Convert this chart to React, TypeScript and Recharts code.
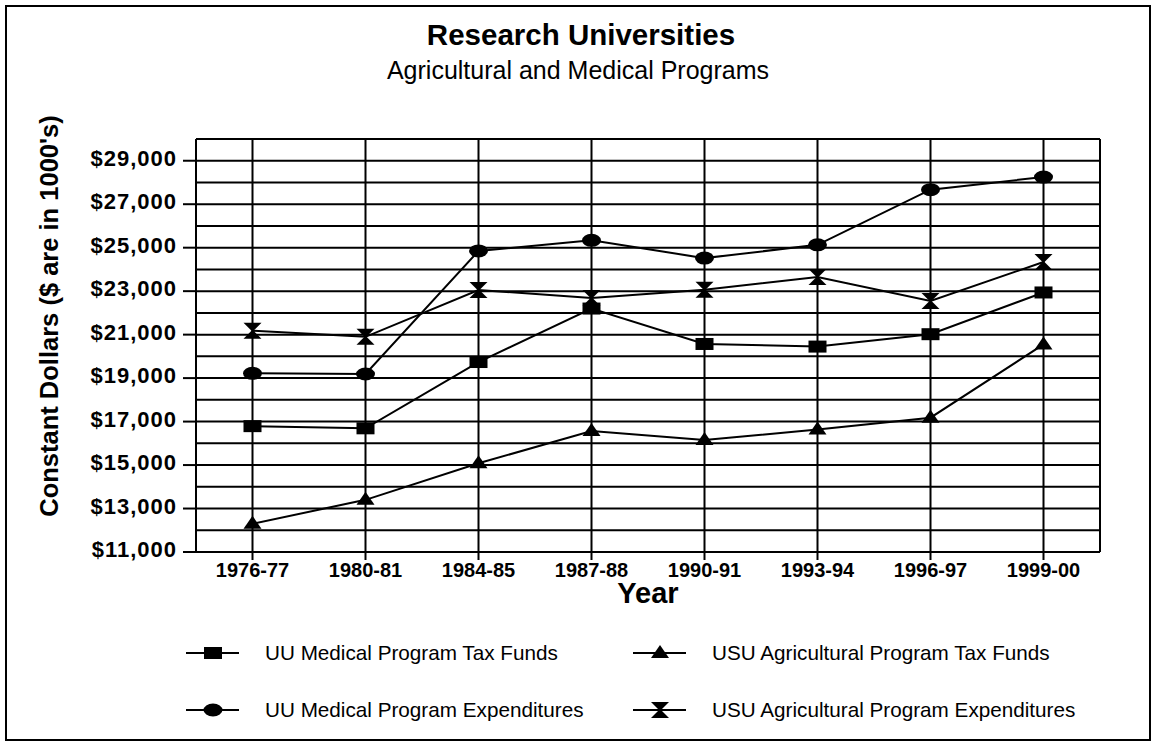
import React from 'react';
import { LineChart, Line, XAxis, YAxis, CartesianGrid, Legend, Label } from 'recharts';

const years = ['1976-77', '1980-81', '1984-85', '1987-88', '1990-91', '1993-94', '1996-97', '1999-00'];
const uuMedicalTaxFunds = [16790, 16690, 19740, 22200, 20570, 20450, 21020, 22940];
const usuAgTaxFunds = [12300, 13400, 15080, 16570, 16150, 16640, 17180, 20550];
const uuMedicalExpenditures = [19220, 19190, 24850, 25340, 24520, 25130, 27670, 28250];
const usuAgExpenditures = [21180, 20900, 23050, 22690, 23060, 23650, 22550, 24340];

const gridTicks = [11000, 12000, 13000, 14000, 15000, 16000, 17000, 18000, 19000, 20000, 21000, 22000, 23000, 24000, 25000, 26000, 27000, 28000, 29000, 30000];
const labeledTicks = [11000, 13000, 15000, 17000, 19000, 21000, 23000, 25000, 27000, 29000];

const title = 'Research Universities';
const subtitle = 'Agricultural and Medical Programs';
const yTitle = "Constant Dollars ($ are in 1000's)";
const xTitle = 'Year';

const seriesNames = [
  'UU Medical Program Tax Funds',
  'USU Agricultural Program Tax Funds',
  'UU Medical Program Expenditures',
  'USU Agricultural Program Expenditures',
];
const seriesKeys = ['uuTax', 'usuTax', 'uuExp', 'usuExp'];
const seriesShapes = ['square', 'triangle', 'circle', 'hourglass'];

const data = years.map((year, i) => ({
  year,
  uuTax: uuMedicalTaxFunds[i],
  usuTax: usuAgTaxFunds[i],
  uuExp: uuMedicalExpenditures[i],
  usuExp: usuAgExpenditures[i],
}));

const FONT = "'Liberation Sans', Arial, Helvetica, sans-serif";

function Marker({ shape, cx, cy }: { shape: string; cx: number; cy: number }) {
  if (cx == null || cy == null) return null;
  if (shape === 'square') {
    return <rect x={cx - 9} y={cy - 6} width={18} height={12} fill="#000" />;
  }
  if (shape === 'triangle') {
    return <polygon points={`${cx},${cy - 8} ${cx - 9},${cy + 5} ${cx + 9},${cy + 5}`} fill="#000" />;
  }
  if (shape === 'circle') {
    return <ellipse cx={cx} cy={cy} rx={9.5} ry={6.5} fill="#000" />;
  }
  return (
    <polygon
      points={`${cx - 9},${cy - 8} ${cx + 9},${cy - 8} ${cx + 1},${cy} ${cx + 9},${cy + 8} ${cx - 9},${cy + 8} ${cx - 1},${cy}`}
      fill="#000"
    />
  );
}

const makeDot = (shape: string) => (props: any) => (
  <Marker key={`${shape}-${props.index}`} shape={shape} cx={props.cx} cy={props.cy} />
);

const YTick = (props: any) => {
  const { x, y, payload } = props;
  if (!labeledTicks.includes(payload.value)) return <g />;
  const text = '$' + payload.value.toLocaleString('en-US');
  return (
    <g>
      <line x1={x - 13} x2={x} y1={y} y2={y} stroke="#000" strokeWidth={2} />
      <text
        x={x - 19}
        y={y + 5}
        textAnchor="end"
        fontFamily={FONT}
        fontWeight="bold"
        fontSize={22}
        letterSpacing={1}
        fill="#000"
      >
        {text}
      </text>
    </g>
  );
};

const XTick = (props: any) => {
  const { x, y, payload } = props;
  return (
    <text x={x} y={y + 15} textAnchor="middle" fontFamily={FONT} fontWeight="bold" fontSize={20} fill="#000">
      {payload.value}
    </text>
  );
};

const legendCols = [186, 633];
const legendRows = [33, 90];

const LegendContent = () => (
  <svg width={1156} height={120} style={{ display: 'block' }}>
    {seriesNames.map((name, i) => {
      const lx = legendCols[i % 2];
      const ly = legendRows[Math.floor(i / 2)];
      return (
        <g key={name}>
          <line x1={lx} x2={lx + 53} y1={ly} y2={ly} stroke="#000" strokeWidth={2} />
          <Marker shape={seriesShapes[i]} cx={lx + 27} cy={ly} />
          <text x={lx + 79} y={ly + 7} fontFamily={FONT} fontSize={20.7} fill="#000">
            {name}
          </text>
        </g>
      );
    })}
  </svg>
);

export default function App() {
  return (
    <div style={{ position: 'absolute', left: 0, top: 0, width: 1156, height: 746, background: '#fff', overflow: 'hidden' }}>
      <LineChart
        width={1156}
        height={746}
        data={data}
        margin={{ top: 139, right: 56, bottom: 154, left: 0 }}
        style={{ position: 'absolute', left: 0, top: 0 }}
      >
        <CartesianGrid stroke="#000" strokeWidth={2} horizontalValues={gridTicks} />
        <XAxis
          dataKey="year"
          padding={{ left: 56.5, right: 56.5 }}
          height={40}
          tickSize={8}
          tickMargin={2}
          interval={0}
          axisLine={{ stroke: '#000', strokeWidth: 2 }}
          tickLine={{ stroke: '#000', strokeWidth: 2 }}
          tick={<XTick />}
        >
          <Label
            content={(p: any) => {
              const vb = p.viewBox || { x: 196, y: 552, width: 904 };
              return (
                <text
                  x={vb.x + vb.width / 2}
                  y={vb.y + 51}
                  textAnchor="middle"
                  fontFamily={FONT}
                  fontWeight="bold"
                  fontSize={29}
                  fill="#000"
                >
                  {xTitle}
                </text>
              );
            }}
          />
        </XAxis>
        <YAxis
          domain={[11000, 30000]}
          ticks={gridTicks}
          interval={0}
          width={196}
          allowDataOverflow
          tickLine={false}
          tickSize={0}
          tickMargin={0}
          axisLine={{ stroke: '#000', strokeWidth: 2 }}
          tick={<YTick />}
        >
          <Label
            content={() => (
              <text
                x={58}
                y={316}
                transform="rotate(-90, 58, 316)"
                textAnchor="middle"
                fontFamily={FONT}
                fontWeight="bold"
                fontSize={25.5}
                fill="#000"
              >
                {yTitle}
              </text>
            )}
          />
        </YAxis>
        <YAxis
          yAxisId="right"
          orientation="right"
          domain={[11000, 30000]}
          width={0}
          tick={false}
          tickLine={false}
          axisLine={{ stroke: '#000', strokeWidth: 2 }}
        />
        {seriesKeys.map((k, i) => (
          <Line
            key={k}
            dataKey={k}
            name={seriesNames[i]}
            stroke="#000"
            strokeWidth={2}
            dot={makeDot(seriesShapes[i])}
            activeDot={false}
            isAnimationActive={false}
          />
        ))}
        <Legend
          layout="horizontal"
          verticalAlign="middle"
          align="center"
          content={<LegendContent />}
          wrapperStyle={{ position: 'absolute', left: 0, top: 620, width: 1156, height: 120 }}
        />
      </LineChart>
      <svg width={1156} height={746} style={{ position: 'absolute', left: 0, top: 0, pointerEvents: 'none' }}>
        <rect x={6} y={6} width={1144} height={734} fill="none" stroke="#000" strokeWidth={2} />
        <text x={581} y={45} textAnchor="middle" fontFamily={FONT} fontWeight="bold" fontSize={29.5} fill="#000">
          {title}
        </text>
        <text x={578} y={79} textAnchor="middle" fontFamily={FONT} fontSize={25} fill="#000">
          {subtitle}
        </text>
      </svg>
    </div>
  );
}
